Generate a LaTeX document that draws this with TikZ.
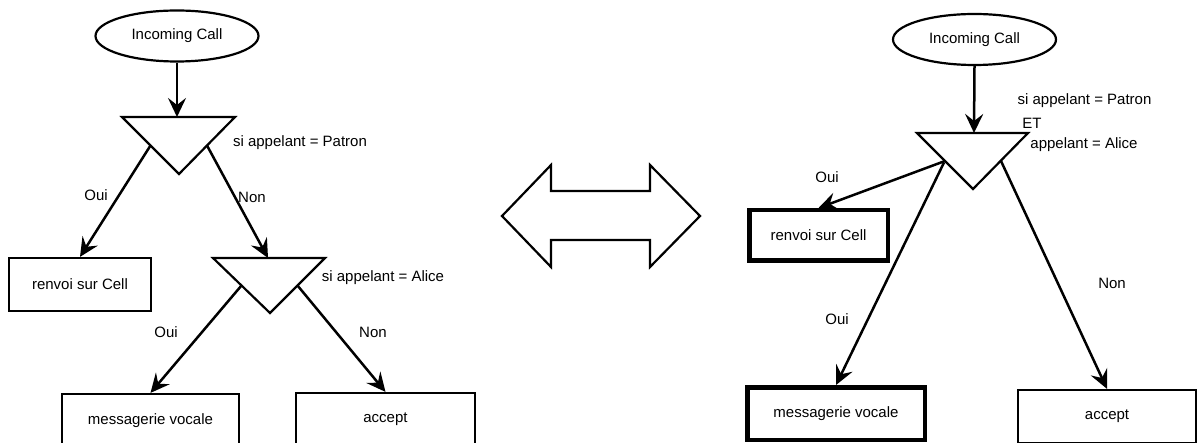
\documentclass[tikz,border=0pt]{standalone}
\usepackage{fontspec}
\setmainfont{Liberation Sans}
\usetikzlibrary{arrows.meta,shapes.geometric}
\begin{document}
\begin{tikzpicture}[x=1pt,y=-1pt,
  every node/.style={font=\fontsize{15}{18}\selectfont, inner sep=0pt},
  startnode/.style={draw, ellipse, line width=2.2pt, minimum width=163pt, minimum height=51pt},
  actbox/.style={draw, rectangle, line width=2.2pt},
  heavybox/.style={draw, rectangle, line width=4.5pt},
  flow/.style={line width=2.5pt, -{Stealth[length=19pt,width=18pt,inset=7pt]}},
  decision/.style={draw, line width=2.2pt, line join=miter},
  bigarrow/.style={draw, line width=2.2pt, line join=miter}]
\clip (0,0) rectangle (1204,443);

% ---------- nested decisions ----------
\node[startnode] (inA) at (177,36) {Incoming Call};

\draw[decision] (122,117) -- (235,117) -- (179,174) -- cycle;
\coordinate (dA1top) at (177,117);
\coordinate (dA1l) at (150.5,145.5);
\coordinate (dA1r) at (207,145.5);
\node (condA1) at (300,143) {si appelant = Patron};

\node[actbox, minimum width=142pt, minimum height=53pt] (cellA) at (80,284.5) {renvoi sur Cell};

\draw[decision] (213,258) -- (325,258) -- (270,313) -- cycle;
\coordinate (dA2top) at (268,258);
\coordinate (dA2l) at (241.5,285.5);
\coordinate (dA2r) at (297.5,285.5);
\node (condA2) at (383,278) {si appelant = Alice};

\node[actbox, minimum width=177pt, minimum height=53pt] (vmA) at (150.5,420.5) {messagerie vocale};
\node[actbox, minimum width=179pt, minimum height=53pt] (accA) at (385.5,419.5) {accept};

\draw[flow] (inA.south) -- (dA1top);
\draw[flow] (dA1l) -- (cellA.north);
\draw[flow] (dA1r) -- (dA2top);
\draw[flow] (dA2l) -- (vmA.north);
\draw[flow] (dA2r) -- (accA.north);

\node (ouiA1) at (96,195) {Oui};
\node (nonA1) at (252,197) {Non};
\node (ouiA2) at (166,332) {Oui};
\node (nonA2) at (373,332) {Non};

% ---------- equivalence ----------
\draw[bigarrow] (502,216) -- (551,165) -- (551,191) -- (650,191) -- (650,165)
  -- (700,216) -- (650,267) -- (650,240) -- (551,240) -- (551,267) -- cycle;

% ---------- combined decision ----------
\node[startnode] (inB) at (974.5,39.5) {Incoming Call};

\draw[decision] (917,133) -- (1028,133) -- (973,189) -- cycle;
\coordinate (dBtop) at (974,133);
\coordinate (dBl) at (945,161);
\coordinate (dBl2) at (944,162.5);
\coordinate (dBr) at (1001,161);
\node (condB1) at (1084.5,101) {si appelant = Patron};
\node (condB2) at (1032,123) {ET};
\node (condB3) at (1084,145) {appelant = Alice};

\node[heavybox, minimum width=138.5pt, minimum height=50.5pt] (cellB) at (818.5,235.5) {renvoi sur Cell};
\node[heavybox, minimum width=177.5pt, minimum height=52.5pt] (vmB) at (836,413.5) {messagerie vocale};
\node[actbox, minimum width=178pt, minimum height=53pt] (accB) at (1107,416.5) {accept};

\draw[flow] (inB.south) -- (dBtop);
\draw[flow] (dBl) -- (cellB.north);
\draw[flow] (dBl2) -- (vmB.north);
\draw[flow] (dBr) -- (accB.north);

\node (ouiB1) at (827,177) {Oui};
\node (ouiB2) at (837,319) {Oui};
\node (nonB) at (1112,283) {Non};
\end{tikzpicture}
\end{document}
